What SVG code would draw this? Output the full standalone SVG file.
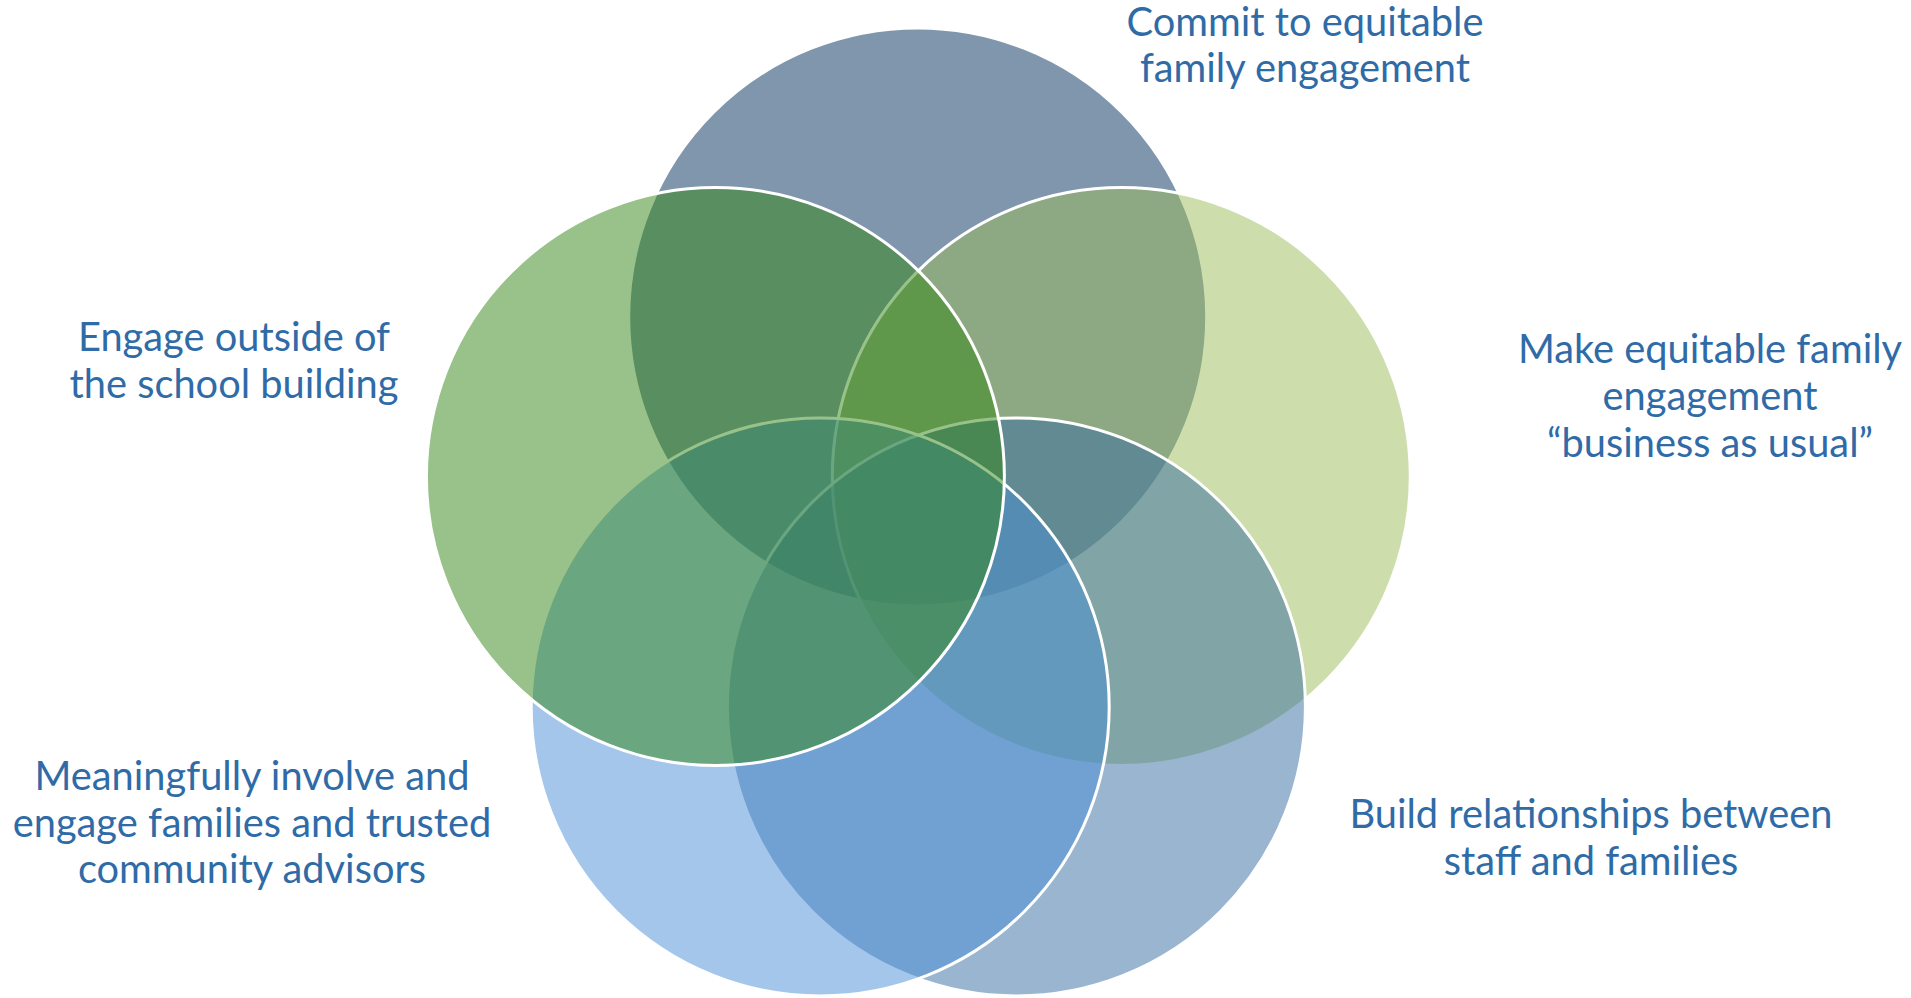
<svg xmlns="http://www.w3.org/2000/svg" width="1911" height="998" viewBox="0 0 1911 998">
  <style>
    .petal { stroke: #ffffff; stroke-width: 3; }
    .label { font-family: "Lato", "Liberation Sans", sans-serif; font-size: 39.8px; fill: #2F6BA7; text-anchor: middle; }
  </style>
  <rect width="1911" height="998" fill="#ffffff"/>

  <!-- Five overlapping translucent circles, stacked from the top one to the left one -->
  <g id="commit">
    <circle class="petal" cx="917.7" cy="316.9" r="289" fill="#7F96AD"/>
    <text class="label" x="1305" y="36">Commit to equitable</text>
    <text class="label" x="1305" y="82">family engagement</text>
  </g>

  <g id="business-as-usual">
    <circle class="petal" cx="1121.3" cy="476.5" r="289" fill="#9BBB59" fill-opacity="0.5"/>
    <text class="label" x="1710" y="363">Make equitable family</text>
    <text class="label" x="1710" y="410">engagement</text>
    <text class="label" x="1710" y="457">“business as usual”</text>
  </g>

  <g id="relationships">
    <circle class="petal" cx="1016.4" cy="706.9" r="289" fill="#356BA1" fill-opacity="0.5"/>
    <text class="label" x="1591" y="828">Build relationships between</text>
    <text class="label" x="1591" y="875">staff and families</text>
  </g>

  <g id="involve-families">
    <circle class="petal" cx="820.2" cy="706.9" r="289" fill="#478DD5" fill-opacity="0.5"/>
    <text class="label" x="252" y="790">Meaningfully involve and</text>
    <text class="label" x="252" y="837">engage families and trusted</text>
    <text class="label" x="252" y="883">community advisors</text>
  </g>

  <g id="outside-school">
    <circle class="petal" cx="715.4" cy="476.5" r="289" fill="#318513" fill-opacity="0.5"/>
    <text class="label" x="234" y="351">Engage outside of</text>
    <text class="label" x="234" y="398">the school building</text>
  </g>
</svg>
